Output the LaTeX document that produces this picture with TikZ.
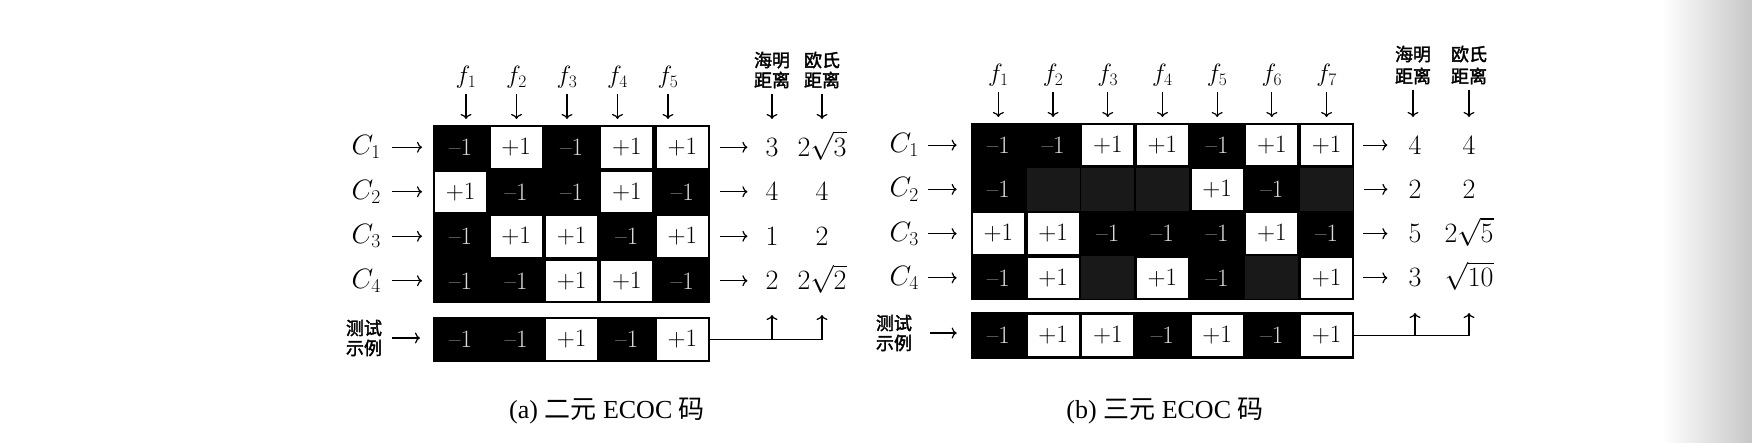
\documentclass[tikz,border=0pt]{standalone}
\usepackage{fix-cm}
\usepackage{fontspec}
\usepackage{amsmath}
\usetikzlibrary{arrows.meta}
\newfontfamily\cjk{Noto Sans CJK SC}[FakeBold=2]
\newfontfamily\cjkcap{Noto Sans CJK SC}
\newfontfamily\capfont{Liberation Serif}

\begin{document}
\begin{tikzpicture}[x=1pt, y=-1pt,
    every node/.style={inner sep=0pt, font=\fontsize{28}{32}\selectfont},
    arr/.style={line width=1.2pt, -{To[length=5pt,width=11pt]}},
    cell/.style={minimum width=51pt, minimum height=40.5pt},
    vp/.style={cell, fill=white, font=\fontsize{25}{28}\selectfont, node contents={$+1$}},
    vn/.style={cell, text=white!85!black, font=\fontsize{25}{28}\selectfont, node contents={\textendash1}},
    vz/.style={minimum width=53pt, minimum height=43pt, fill=black!90, node contents={}},
    flab/.style={font=\fontsize{25}{30}\selectfont},
    hlab/.style={align=center, font=\fontsize{18}{20}\selectfont\cjk},
    caplab/.style={font=\fontsize{26}{30}\selectfont\capfont}]

\fill[white] (0,0) rectangle (1752,442);
\shade[left color=white, right color=black!22] (1662,0) rectangle (1752,442);

% (a) binary code
\node[fill=black, minimum width=277pt, minimum height=178pt, anchor=north west] (mA) at (433,125) {};
\node[fill=black, minimum width=277pt, minimum height=45pt, anchor=north west] (tA) at (433,317) {};
\foreach \row [count=\r] in {{n,p,n,p,p},{p,n,n,p,n},{n,p,p,n,p},{n,n,p,p,n}}
    \foreach \v [count=\c] in \row
        \node (a-\r-\c) at ({433+55.4*(\c-0.5)},{125+44.5*(\r-0.5)}) [v\v];
\foreach \v [count=\c] in {n,n,p,n,p}
    \node (at-\c) at ({433+55.4*(\c-0.5)},339.5) [v\v];

\coordinate (topA) at (0,119);
\foreach \c in {1,...,5} {
    \node[flab] (fa\c) at ({466+50.5*(\c-1)},77) {$f_\c$};
    \draw[arr, shorten <=6pt] (fa\c.south) -- (fa\c.south |- topA);
}
\foreach \r in {1,...,4} {
    \node[anchor=east] (ca\r) at (381,{125+44.5*(\r-0.5)}) {$C_\r$};
    \draw[arr, shorten <=11pt, shorten >=13pt] (ca\r.east) -- (a-\r-1.west);
}
\node[hlab] (hamA) at (772,70) {海明\\距离};
\node[hlab] (eucA) at (822,70) {欧氏\\距离};
\draw[arr, shorten <=6pt] (hamA.south) -- (hamA.south |- topA);
\draw[arr, shorten <=6pt] (eucA.south) -- (eucA.south |- topA);
\foreach \r/\h/\e in {1/3/2\sqrt{3}, 2/4/4, 3/1/2, 4/2/2\sqrt{2}} {
    \node[anchor=base] (ha\r) at (772,{125+44.5*(\r-0.5)+9}) {$\h$};
    \node[anchor=base] (ea\r) at (822,{125+44.5*(\r-0.5)+9}) {$\e$};
    \draw[arr, shorten <=12pt, shorten >=18pt] (a-\r-5.east) -- (a-\r-5.east -| ha\r.west);
}
\node[hlab] (ta) at (364,338) {测试\\示例};
\draw[arr, shorten <=10pt, shorten >=15pt] (ta.east) -- (ta.east -| at-1.west);
\coordinate (upA) at (0,315);
\draw[line width=1.2pt] (tA.east) -- (tA.east -| ea4);
\draw[arr] (tA.east -| ha4) -- (ha4 |- upA);
\draw[arr] (tA.east -| ea4) -- (ea4 |- upA);
\node[caplab] (capA) at (607,411) {(a) {\cjkcap 二元} ECOC {\cjkcap 码}};

% (b) ternary code
\node[fill=black, minimum width=383pt, minimum height=177pt, anchor=north west] (mB) at (971,123) {};
\node[fill=black, minimum width=383pt, minimum height=47pt, anchor=north west] (tB) at (971,312) {};
\foreach \row [count=\r] in {{n,n,p,p,n,p,p},{n,z,z,z,p,n,z},{p,p,n,n,n,p,n},{n,p,z,p,n,z,p}}
    \foreach \v [count=\c] in \row
        \node (b-\r-\c) at ({971+54.7*(\c-0.5)},{123+44.25*(\r-0.5)}) [v\v];
\foreach \v [count=\c] in {n,p,p,n,p,n,p}
    \node (bt-\c) at ({971+54.7*(\c-0.5)},335.5) [v\v];

\coordinate (topB) at (0,117);
\foreach \c in {1,...,7} {
    \node[flab] (fb\c) at ({971+54.7*(\c-0.5)},75) {$f_\c$};
    \draw[arr, shorten <=6pt] (fb\c.south) -- (fb\c.south |- topB);
}
\foreach \r in {1,...,4} {
    \node[anchor=east] (cb\r) at (919,{123+44.25*(\r-0.5)}) {$C_\r$};
    \draw[arr, shorten <=9pt, shorten >=16pt] (cb\r.east) -- (b-\r-1.west);
}
\node[hlab, font=\fontsize{18}{22}\selectfont\cjk] (hamB) at (1413,65) {海明\\距离};
\node[hlab, font=\fontsize{18}{22}\selectfont\cjk] (eucB) at (1469,65) {欧氏\\距离};
\draw[arr, shorten <=6pt] (hamB.south) -- (hamB.south |- topB);
\draw[arr, shorten <=6pt] (eucB.south) -- (eucB.south |- topB);
\foreach \r/\h/\e in {1/4/4, 2/2/2, 3/5/2\sqrt{5}, 4/3/\sqrt{10}} {
    \node[anchor=base] (hb\r) at (1415,{123+44.25*(\r-0.5)+9}) {$\h$};
    \node[anchor=base] (eb\r) at (1469,{123+44.25*(\r-0.5)+9}) {$\e$};
    \draw[arr, shorten <=11pt, shorten >=21pt] (b-\r-7.east) -- (b-\r-7.east -| hb\r.west);
}
\node[hlab] (tb) at (894,333) {测试\\示例};
\draw[arr, shorten <=18pt, shorten >=16pt] (tb.east) -- (tb.east -| bt-1.west);
\coordinate (upB) at (0,313);
\draw[line width=1.2pt] (tB.east) -- (tB.east -| eb4);
\draw[arr] (tB.east -| hb4) -- (hb4 |- upB);
\draw[arr] (tB.east -| eb4) -- (eb4 |- upB);
\node[caplab] (capB) at (1165,411) {(b) {\cjkcap 三元} ECOC {\cjkcap 码}};
\end{tikzpicture}
\end{document}
